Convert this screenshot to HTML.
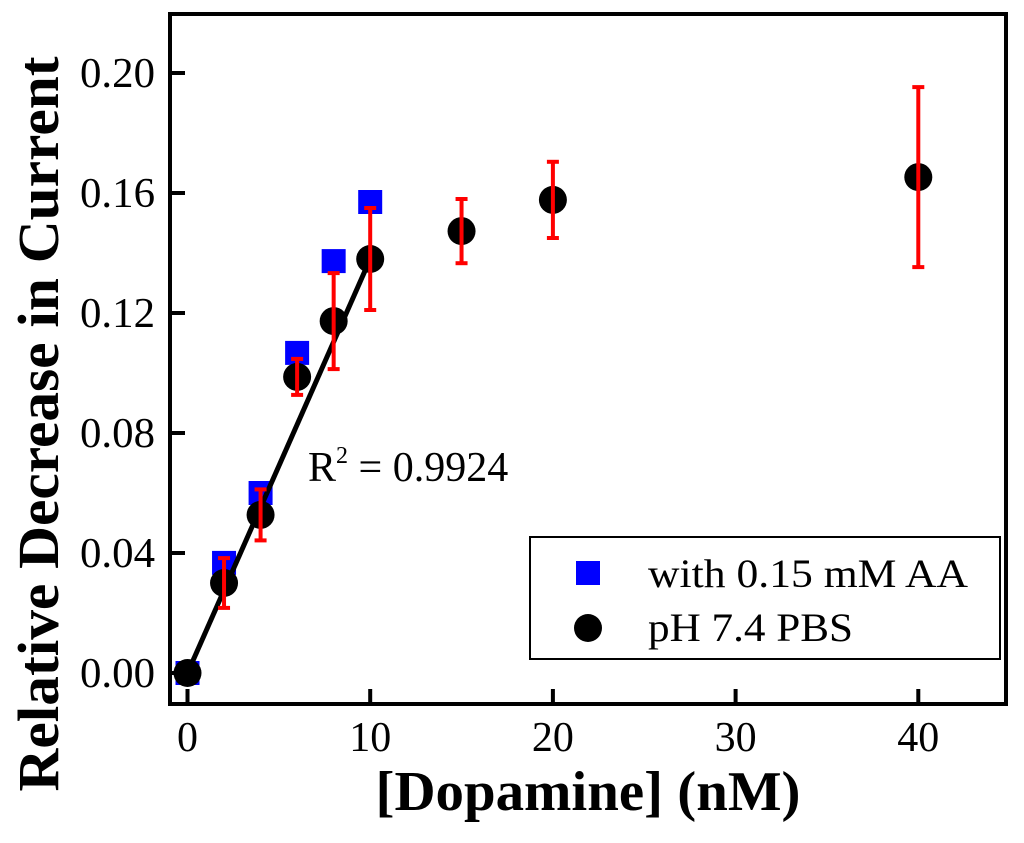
<!DOCTYPE html>
<html><head><meta charset="utf-8"><style>
body{margin:0;background:#fff;}
svg text{font-family:"Liberation Serif",serif;}
</style></head><body>
<svg id="chart" width="1024" height="838" xmlns="http://www.w3.org/2000/svg"></svg>
<script>
const conc = [0,2,4,6,8,10,15,20,40];
const pbsVals = [0,0.030,0.0527,0.0987,0.1173,0.138,0.1473,0.1577,0.1653];
const pbsErr = [0,0.0083,0.0085,0.006,0.016,0.017,0.0107,0.0127,0.03];
const aaConc = [0,2,4,6,8,10];
const aaVals = [0,0.0367,0.060,0.1067,0.1373,0.157];
const fitX = [0,10];
const fitY = [0,0.138];
const xTicks = [0,10,20,30,40];
const yTicks = [0,0.04,0.08,0.12,0.16,0.20];
const yTickLabels = ["0.00","0.04","0.08","0.12","0.16","0.20"];

const NS="http://www.w3.org/2000/svg";
const svg=document.getElementById('chart');
const X=v=>187.5+v*18.27;
const Y=v=>673-v*3000;
function mk(tag,attrs,parent){const e=document.createElementNS(NS,tag);for(const k in attrs)e.setAttribute(k,attrs[k]);(parent||svg).appendChild(e);return e;}

const frame=mk('rect',{x:170,y:14,width:836,height:690,fill:'none',stroke:'#000','stroke-width':4});



xTicks.forEach(t=>{
  const l=mk('line',{x1:X(t),x2:X(t),y1:704,y2:689,stroke:'#000','stroke-width':4});
  
  
  const tx=mk('text',{x:X(t),y:751,'font-size':42,'text-anchor':'middle'});
  tx.textContent=t;
  
  
});
yTicks.forEach((t,i)=>{
  const l=mk('line',{x1:170,x2:185,y1:Y(t),y2:Y(t),stroke:'#000','stroke-width':4});
  
  
  const tx=mk('text',{x:155,y:Y(t)+14,'font-size':42,'text-anchor':'end',textLength:75,lengthAdjust:'spacingAndGlyphs'});
  tx.textContent=yTickLabels[i];
  
  
});

const xt=mk('text',{x:588,y:810,'font-size':56,'font-weight':'bold','text-anchor':'middle',textLength:425,lengthAdjust:'spacingAndGlyphs'});
xt.textContent='[Dopamine] (nM)';


const yt=mk('text',{x:0,y:0,'font-size':58,'font-weight':'bold','text-anchor':'middle',textLength:735,lengthAdjust:'spacingAndGlyphs',transform:'translate(58,424) rotate(-90)'});
yt.textContent='Relative Decrease in Current';



aaConc.forEach((c,i)=>{
  const r=mk('rect',{x:X(c)-12,y:Y(aaVals[i])-12,width:24,height:24,fill:'#0000ff'});
  
  
});
const fl=mk('line',{x1:X(fitX[0]),y1:Y(fitY[0]),x2:X(fitX[1]),y2:Y(fitY[1]),stroke:'#000','stroke-width':5});


conc.forEach((c,i)=>{
  const ci=mk('circle',{cx:X(c),cy:Y(pbsVals[i]),r:14,fill:'#000'});
  
  
});
conc.forEach((c,i)=>{
  if(!pbsErr[i])return;
  const g=mk('g',{stroke:'#ff0000','stroke-width':4});
  
  
  const t=Y(pbsVals[i]+pbsErr[i]),b=Y(pbsVals[i]-pbsErr[i]),x=X(c);
  mk('line',{x1:x,x2:x,y1:t,y2:b},g);
  mk('line',{x1:x-6,x2:x+6,y1:t,y2:t},g);
  mk('line',{x1:x-6,x2:x+6,y1:b,y2:b},g);
});

const r2=mk('text',{x:308,y:481,'font-size':42});
r2.innerHTML='R<tspan dy="-18" font-size="24">2</tspan><tspan dy="18"> = 0.9924</tspan>';



const lg=mk('g',{});


mk('rect',{x:530,y:537,width:470,height:122,fill:'#fff',stroke:'#000','stroke-width':2},lg);
const ls=mk('rect',{x:576,y:561,width:24,height:24,fill:'#0000ff'},lg);


const l1=mk('text',{x:648,y:587,'font-size':40,textLength:320,lengthAdjust:'spacingAndGlyphs'},lg);l1.textContent='with 0.15 mM AA';
const lc=mk('circle',{cx:588,cy:628,r:14,fill:'#000'},lg);


const l2=mk('text',{x:648,y:641,'font-size':40,textLength:205,lengthAdjust:'spacingAndGlyphs'},lg);l2.textContent='pH 7.4 PBS';
</script>
</body></html>
